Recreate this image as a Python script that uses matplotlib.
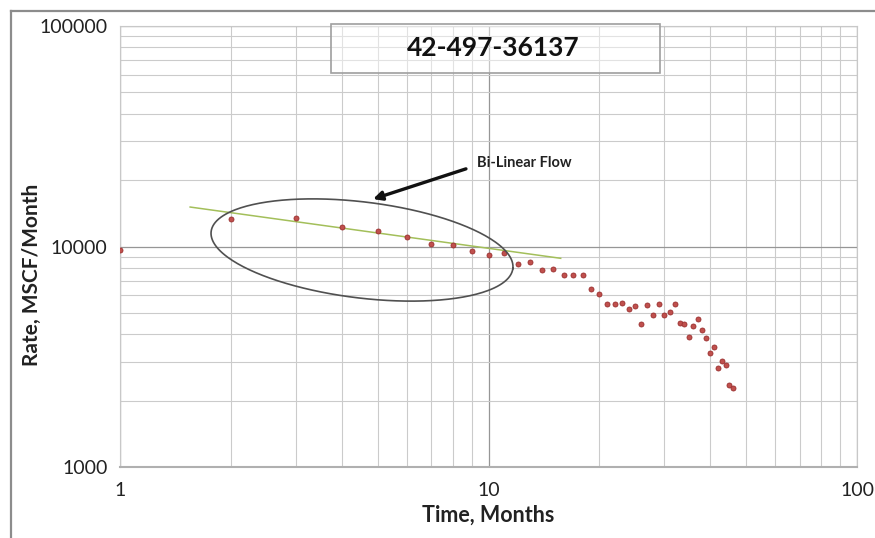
import numpy as np
import matplotlib.pyplot as plt
from matplotlib.ticker import LogLocator, FixedLocator, NullFormatter

plt.rcParams['font.family'] = ['Lato', 'DejaVu Sans']

# monthly gas rate, MSCF/Month
months = list(range(1, 47))
rate = [9640, 13280, 13510, 12300, 11800, 11040, 10300, 10160, 9570, 9180,
        9310, 8300, 8470, 7850, 7880, 7405, 7405, 7405, 6400, 6110,
        5505, 5505, 5540, 5190, 5370, 4440, 5410, 4875, 5505, 4865,
        5060, 5470, 4513, 4470, 3888, 4360, 4706, 4170, 3860, 3290,
        3500, 2820, 3025, 2890, 2347, 2290]

# bi-linear (quarter slope) trend end points
trend_t = [1.55, 15.7]
trend_q = [15100, 8840]

well_id = '42-497-36137'

W, H = 875, 538
fig = plt.figure(figsize=(W/100, H/100), dpi=100)
L, R, B, T = 120, 857, 467, 26
ax = fig.add_axes([L/W, 1-B/H, (R-L)/W, (B-T)/H])
ax.set_xscale('log')
ax.set_yscale('log')
ax.set_xlim(1, 100)
ax.set_ylim(1000, 100000)

ax.xaxis.set_major_locator(FixedLocator([1, 10, 100]))
ax.yaxis.set_major_locator(FixedLocator([1000, 10000, 100000]))
ax.xaxis.set_minor_locator(LogLocator(base=10, subs=np.arange(2, 10)))
ax.yaxis.set_minor_locator(LogLocator(base=10, subs=np.arange(2, 10)))
ax.xaxis.set_minor_formatter(NullFormatter())
ax.yaxis.set_minor_formatter(NullFormatter())
ax.set_xticklabels(['1', '10', '100'])
ax.set_yticklabels(['1000', '10000', '100000'])
ax.tick_params(which='both', length=0, labelsize=14, colors='#222222')
ax.tick_params(axis='x', pad=11)
ax.tick_params(axis='y', pad=9)

ax.grid(which='major', color='#969696', lw=0.9)
ax.grid(which='minor', color='#cbcbcb', lw=0.8)
ax.set_axisbelow(True)
for s in ax.spines.values():
    s.set_color('#c8c8c8')
    s.set_linewidth(0.8)
ax.spines['bottom'].set_color('#b0b0b0')
ax.spines['bottom'].set_linewidth(1.5)

ax.plot(trend_t, trend_q, color='#a3bf5a', lw=1.1, zorder=3)
ax.plot(months, rate, ls='none', marker='o', ms=3.6, color='#c0504d',
        mec='#9a2f2f', mew=0.6, zorder=4)

# ellipse around the bi-linear period, drawn in pixel space
cx, cy, a, b, ang = 362, 250, 152, 48, np.radians(7)
th = np.linspace(0, 2*np.pi, 300)
px = cx + a*np.cos(th)*np.cos(ang) - b*np.sin(th)*np.sin(ang)
py = cy + a*np.cos(th)*np.sin(ang) + b*np.sin(th)*np.cos(ang)
ax.plot((px-L)/(R-L), (B-py)/(B-T), color='#505050', lw=1.2,
        transform=ax.transAxes, zorder=5)

ax.annotate('', xy=(4.78, 16260), xytext=(8.83, 22700),
            arrowprops=dict(arrowstyle='-|>', color='#111111', lw=2.4,
                            mutation_scale=13), zorder=6)
ax.text(9.3, 23900, 'Bi-Linear Flow', fontsize=10.5, fontweight='bold',
        color='#222222', ha='left', va='center')

# well id in a framed box
fig.add_artist(plt.Rectangle((331/W, 1-73/H), (660-331)/W, (73-24)/H,
                             fc='white', ec='#a0a0a0', lw=1.1, alpha=0.45))
fig.add_artist(plt.Rectangle((331/W, 1-73/H), (660-331)/W, (73-24)/H,
                             fc='none', ec='#a0a0a0', lw=1.1))
fig.text(493/W, 1-48/H, well_id, fontsize=19, fontweight='bold',
         color='#111111', ha='center', va='center')

ax.set_xlabel('Time, Months', fontsize=15.5, fontweight='bold', color='#222222', labelpad=4)
ax.set_ylabel('Rate, MSCF/Month', fontsize=15, fontweight='bold', color='#222222')
ax.yaxis.set_label_coords((42-L)/(R-L), (B-275)/(B-T))

# outer chart border
fig.add_artist(plt.Line2D([11/W, 11/W], [0, 1-11/H], color='#8c8c8c', lw=1.6))
fig.add_artist(plt.Line2D([11/W, 1], [1-11/H, 1-11/H], color='#8c8c8c', lw=1.6))

fig.savefig('out.png', dpi=100)
